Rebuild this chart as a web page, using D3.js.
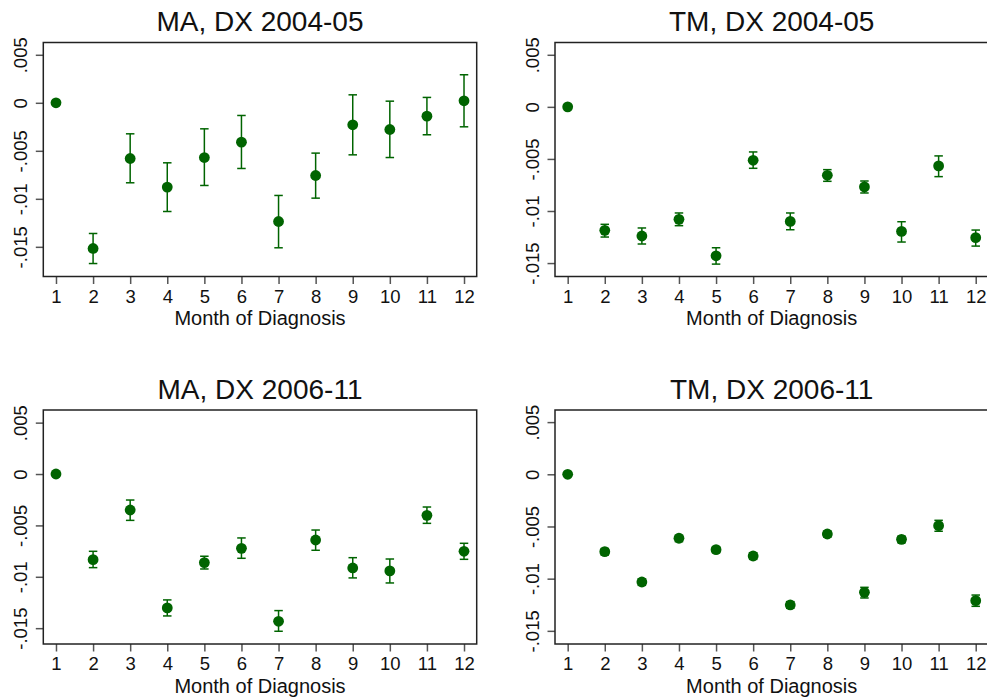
<!DOCTYPE html>
<html>
<head>
  <meta charset="utf-8">
  <script src="https://cdn.jsdelivr.net/npm/d3@7"></script>
  <style type="text/css">
    body {
      margin: 0;
      background: #fff;
      font-family: "Liberation Sans", Arial, Helvetica, sans-serif;
    }
    .tick line {
      stroke: #555;
      stroke-width: 1.5;
    }
    .tick text {
      font-size: 18.5px;
      fill: #111;
    }
    .frame {
      fill: none;
      stroke: #222;
      stroke-width: 1.5;
    }
    .title {
      font-size: 28px;
      fill: #111;
    }
    .xlabel {
      font-size: 20px;
      fill: #111;
    }
    .err {
      stroke: #006400;
      stroke-width: 1.5;
      fill: none;
    }
    .dot {
      fill: #006400;
    }
  </style>
</head>
<body>
  <script type="text/javascript">

  // Data
  const months = [1, 2, 3, 4, 5, 6, 7, 8, 9, 10, 11, 12];
  const yTicks = [0.005, 0, -0.005, -0.01, -0.015];
  const yTickLabels = ['.005', '0', '-.005', '-.01', '-.015'];
  const xTitle = 'Month of Diagnosis';

  // MA, DX 2004-05
  const maEarlyEst = [0, -0.01517, -0.0058, -0.00878, -0.0057, -0.0041, -0.01236, -0.00757, -0.00229, -0.00278, -0.00139, 0.00021];
  const maEarlyLo  = [0, -0.01674, -0.00833, -0.01132, -0.00861, -0.00684, -0.0151, -0.00993, -0.00542, -0.0057, -0.00333, -0.0025];
  const maEarlyHi  = [0, -0.01361, -0.00323, -0.00625, -0.00271, -0.00132, -0.00965, -0.00524, 0.00083, 0.00017, 0.00056, 0.00292];

  // TM, DX 2004-05
  const tmEarlyEst = [0, -0.01186, -0.0124, -0.0108, -0.0143, -0.00513, -0.011, -0.00657, -0.00769, -0.01196, -0.00567, -0.01256];
  const tmEarlyLo  = [0, -0.0125, -0.01317, -0.01141, -0.0151, -0.0059, -0.0118, -0.00715, -0.00827, -0.01298, -0.0067, -0.01337];
  const tmEarlyHi  = [0, -0.01128, -0.01163, -0.01019, -0.01353, -0.00433, -0.01019, -0.00603, -0.00712, -0.01103, -0.00471, -0.01183];

  // MA, DX 2006-11
  const maLateEst = [0, -0.00833, -0.0035, -0.01303, -0.00862, -0.00723, -0.01433, -0.00642, -0.00914, -0.00943, -0.00402, -0.00752];
  const maLateLo  = [0, -0.00911, -0.00451, -0.01381, -0.00924, -0.0082, -0.0153, -0.00742, -0.01011, -0.0106, -0.0048, -0.0083];
  const maLateHi  = [0, -0.00752, -0.00253, -0.01225, -0.008, -0.00622, -0.01329, -0.00545, -0.00814, -0.00827, -0.00321, -0.00674];

  // TM, DX 2006-11
  const tmLateEst = [0, -0.00741, -0.01032, -0.00613, -0.00722, -0.00783, -0.01252, -0.00572, -0.01131, -0.00623, -0.00492, -0.01211];
  const tmLateLo  = [0, -0.00773, -0.01064, -0.00645, -0.00751, -0.00815, -0.01284, -0.00601, -0.01185, -0.00655, -0.00546, -0.01265];
  const tmLateHi  = [0, -0.00712, -0.01003, -0.00585, -0.00697, -0.00751, -0.0122, -0.00546, -0.01083, -0.00594, -0.00441, -0.01157];

  const panelTitles = ['MA, DX 2004-05', 'TM, DX 2004-05', 'MA, DX 2006-11', 'TM, DX 2006-11'];
  const panelYDomains = [[-0.01809, 0.00628], [-0.01629, 0.00618], [-0.01654, 0.00623], [-0.01626, 0.00616]];

  const panels = [
    {title: panelTitles[0], est: maEarlyEst, lo: maEarlyLo, hi: maEarlyHi, yDomain: panelYDomains[0], left: 43.3, top: 42.5},
    {title: panelTitles[1], est: tmEarlyEst, lo: tmEarlyLo, hi: tmEarlyHi, yDomain: panelYDomains[1], left: 555, top: 42.5},
    {title: panelTitles[2], est: maLateEst, lo: maLateLo, hi: maLateHi, yDomain: panelYDomains[2], left: 43.3, top: 410},
    {title: panelTitles[3], est: tmLateEst, lo: tmLateLo, hi: tmLateHi, yDomain: panelYDomains[3], left: 555, top: 410}
  ];

  const plotW = 433.4;
  const plotH = 234;
  const capW = 8.5;
  const dotR = 5.4;

  const svg = d3.select('body').append('svg')
    .attr('width', 987)
    .attr('height', 697);

  panels.forEach(p => drawPanel(p));

  function drawPanel(p) {
    const g = svg.append('g')
      .attr('transform', `translate(${p.left},${p.top})`);

    const x = d3.scaleLinear().domain([0.658, 12.342]).range([0, plotW]);
    const y = d3.scaleLinear().domain(p.yDomain).range([plotH, 0]);

    const rows = months.map((m, i) => ({m: m, est: p.est[i], lo: p.lo[i], hi: p.hi[i]}));

    // x axis
    const axisX = d3.axisBottom(x)
      .tickValues(months)
      .tickFormat(d3.format('d'))
      .tickSize(7.5)
      .tickSizeOuter(0);
    const gx = g.append('g')
      .attr('transform', `translate(0,${plotH})`)
      .call(axisX);
    gx.select('.domain').remove();
    gx.selectAll('.tick text')
      .attr('y', 26)
      .attr('dy', null)
      .attr('font-family', null)
      .attr('font-size', null);

    // y axis, labels rotated like stata
    const axisY = d3.axisLeft(y)
      .tickValues(yTicks)
      .tickFormat((d, i) => yTickLabels[i])
      .tickSize(7.5)
      .tickSizeOuter(0);
    const gy = g.append('g').call(axisY);
    gy.select('.domain').remove();
    gy.selectAll('.tick text')
      .attr('transform', 'rotate(-90)')
      .attr('x', 0)
      .attr('y', -16)
      .attr('dy', null)
      .attr('text-anchor', 'middle')
      .attr('font-family', null)
      .attr('font-size', null);

    g.append('rect')
      .attr('class', 'frame')
      .attr('width', plotW)
      .attr('height', plotH);

    // error bars (skip the reference month)
    const bars = g.selectAll('.bar').data(rows.filter(d => d.hi !== d.lo))
      .enter().append('g').attr('class', 'bar');
    bars.append('line').attr('class', 'err')
      .attr('x1', d => x(d.m)).attr('x2', d => x(d.m))
      .attr('y1', d => y(d.lo)).attr('y2', d => y(d.hi));
    bars.append('line').attr('class', 'err')
      .attr('x1', d => x(d.m) - capW / 2).attr('x2', d => x(d.m) + capW / 2)
      .attr('y1', d => y(d.lo)).attr('y2', d => y(d.lo));
    bars.append('line').attr('class', 'err')
      .attr('x1', d => x(d.m) - capW / 2).attr('x2', d => x(d.m) + capW / 2)
      .attr('y1', d => y(d.hi)).attr('y2', d => y(d.hi));

    g.selectAll('.dot').data(rows)
      .enter().append('circle')
      .attr('class', 'dot')
      .attr('cx', d => x(d.m))
      .attr('cy', d => y(d.est))
      .attr('r', dotR);

    g.append('text')
      .attr('class', 'title')
      .attr('x', plotW / 2)
      .attr('y', -11.5)
      .attr('text-anchor', 'middle')
      .text(p.title);

    g.append('text')
      .attr('class', 'xlabel')
      .attr('x', plotW / 2)
      .attr('y', plotH + 48.5)
      .attr('text-anchor', 'middle')
      .text(xTitle);
  }

  </script>
</body>
</html>
